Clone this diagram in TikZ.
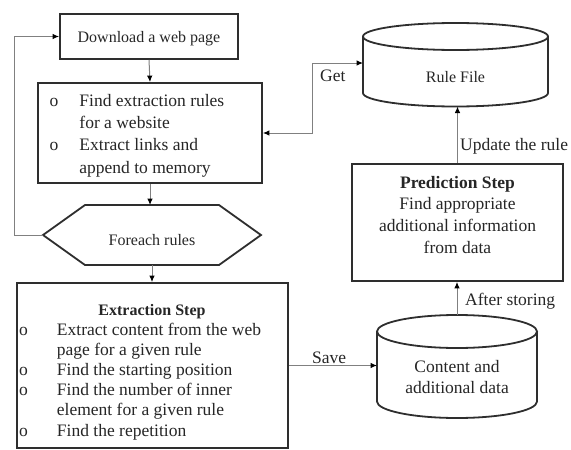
\documentclass[tikz,border=0pt]{standalone}
\usepackage{fontspec}
\setmainfont{Liberation Serif}
\usetikzlibrary{arrows.meta}
\definecolor{boxc}{HTML}{2E2E2E}
\definecolor{connc}{HTML}{808080}
\definecolor{txtc}{HTML}{262626}
\newcommand\myfontA{\fontsize{16}{19}\selectfont}
\begin{document}
\begin{tikzpicture}[x=1pt,y=-1pt,
  box/.style={draw=boxc, line width=1.8pt, inner sep=0pt, fill=white},
  conn/.style={draw=connc, line width=1pt, -{Latex[length=6.5pt,width=5.5pt,color=black]}},
  conntwo/.style={draw=connc, line width=1pt, {Latex[length=6.5pt,width=5.5pt,color=black]}-{Latex[length=6.5pt,width=5.5pt,color=black]}},
  shapeline/.style={draw=boxc, line width=1.8pt},
  txt/.style={inner sep=0pt, text=txtc, anchor=base},
  lbl/.style={inner sep=0pt, text=txtc, anchor=base west, font=\fontsize{17.5}{21}\selectfont}]
\useasboundingbox (0,0) rectangle (571,450);

% boxes
\node[box, minimum width=178pt, minimum height=45pt] (dl) at (149,36.5) {};
\node[box, minimum width=224pt, minimum height=100pt] (fr) at (150,133) {};
\node[box, minimum width=271pt, minimum height=165pt] (ext) at (152.5,365.5) {};
\node[box, minimum width=211pt, minimum height=117pt] (pred) at (457.5,222.5) {};

% hexagon
\coordinate (hexL) at (43,235);
\coordinate (hexT) at (152,205);
\coordinate (hexB) at (152,265);
\draw[shapeline] (hexL) -- (85,205) -- (219,205) -- (261,235) -- (219,265) -- (85,265) -- cycle;
\node[txt, font=\myfontA] (hex) at (152,245) {Foreach rules};

% Rule File cylinder
\coordinate (ruleW) at (363,63);
\coordinate (ruleS) at (455.5,106.5);
\draw[shapeline, fill=white] (363,36.5) -- (363,93) arc[start angle=180, end angle=0, x radius=92.5, y radius=13.5] -- (548,36.5);
\draw[shapeline] (455.5,36.5) ellipse [x radius=92.5, y radius=13.5];
\node[txt, font=\myfontA] (rule) at (455.5,82) {Rule File};

% Content cylinder
\coordinate (contW) at (377,365.5);
\coordinate (contN) at (457,315);
\draw[shapeline] (377,331.5) -- (377,401.5) arc[start angle=180, end angle=0, x radius=80, y radius=16.5] -- (537,331.5);
\draw[shapeline] (457,331.5) ellipse [x radius=80, y radius=16.5];
\node[txt, font=\fontsize{17.5}{21}\selectfont] (cont) at (457,372) {\begin{tabular}[t]{@{}c@{}}Content and\\additional data\end{tabular}};

% texts in boxes
\node[txt, font=\myfontA] (dltxt) at (149,42) {Download a web page};
\node[txt, anchor=base west, font=\fontsize{17.5}{22.4}\selectfont] (frtxt) at (49.5,106)
  {\begin{tabular}[t]{@{}l@{\hspace{21pt}}l@{}}o & Find extraction rules\\ & for a website\\ o & Extract links and\\ & append to memory\end{tabular}};
\node[txt, font=\myfontA\bfseries] (exttitle) at (152,315) {Extraction Step};
\node[txt, anchor=base west, font=\fontsize{17.5}{20.2}\selectfont] (exttxt) at (19,335)
  {\begin{tabular}[t]{@{}l@{\hspace{29pt}}l@{}}o & Extract content from the web\\ & page for a given rule\\ o & Find the starting position\\ o & Find the number of inner\\ & element for a given rule\\ o & Find the repetition\end{tabular}};
\node[txt, font=\fontsize{17.5}{21.7}\selectfont] (predtxt) at (457.5,188)
  {\begin{tabular}[t]{@{}c@{}}\textbf{Prediction Step}\\Find appropriate\\additional information\\from data\end{tabular}};

% connectors
\draw[conn] (dl.south) -- (fr.north);
\draw[conn] (fr.south) -- (fr.south |- hexT);
\draw[conn] (hexB) -- (ext.north -| hexB);
\draw[conn] (hexL) -- ++(-29,0) |- (dl.west);
\draw[conntwo] (fr.east) -- ++(50,0) |- (ruleW);
\draw[conn] (pred.north) -- (pred.north |- ruleS);
\draw[conn] (contN) -- (contN |- pred.south);
\draw[conn] (ext.east) -- (contW);

% labels
\node[lbl] (get) at (320,81) {Get};
\node[lbl] (upd) at (460,150) {Update the rule};
\node[lbl] (aft) at (465,305) {After storing};
\node[lbl] (save) at (312,363) {Save};
\end{tikzpicture}
\end{document}
